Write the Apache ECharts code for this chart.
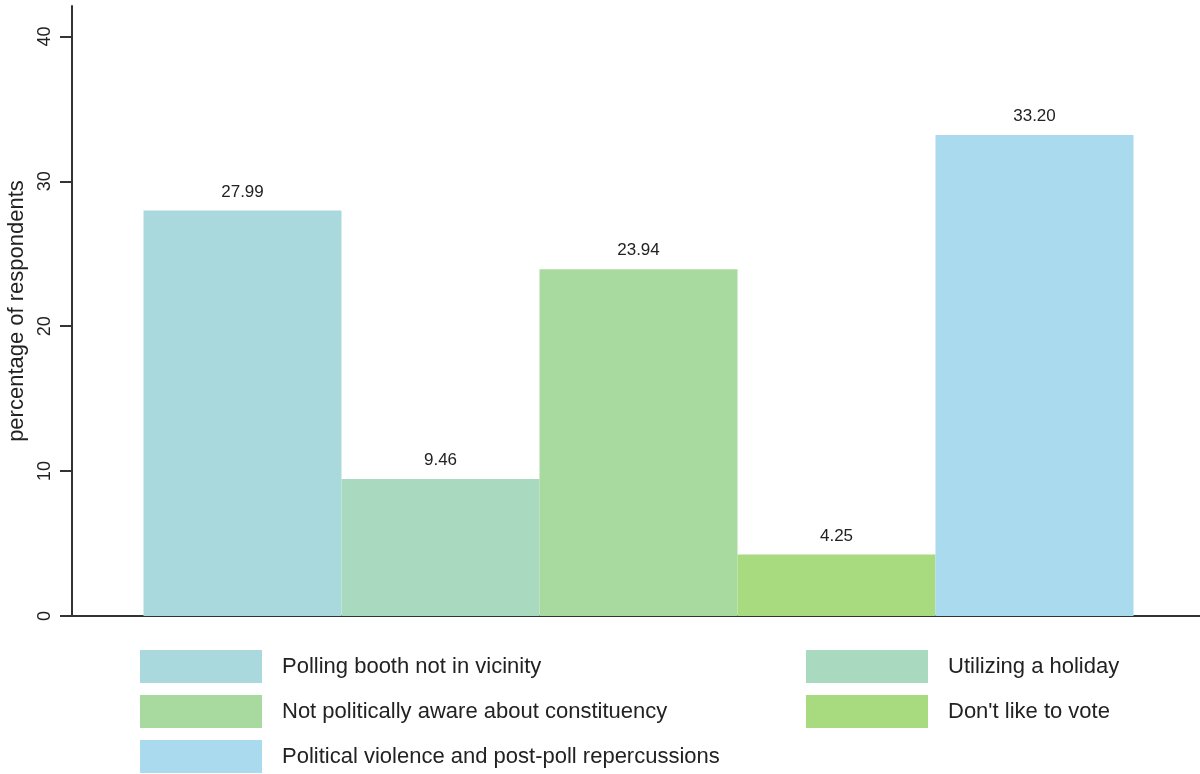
<!DOCTYPE html>
<html>
<head>
<meta charset="utf-8">
<script src="https://cdn.jsdelivr.net/npm/echarts@6/dist/echarts.min.js"></script>
<style>
  html, body { margin: 0; padding: 0; background: #fff; }
  #chart { width: 1200px; height: 774px; }
</style>
</head>
<body>
<div id="chart"></div>
<script>
// Reasons given for not voting, share of respondents (%)
const categories = [
  'Polling booth not in vicinity',
  'Utilizing a holiday',
  'Not politically aware about constituency',
  "Don't like to vote",
  'Political violence and post-poll repercussions'
];
const values = [27.99, 9.46, 23.94, 4.25, 33.20];
const colors = ['#a9d9dc', '#a9dabf', '#a8da9f', '#a8da80', '#a9daee'];
const yTicks = [0, 10, 20, 30, 40];

// Legend columns: left column and right column
const legendLeft = [categories[0], categories[2], categories[4]];
const legendRight = [categories[1], categories[3]];

const FONT = '"Liberation Sans", Arial, Helvetica, sans-serif';
const TEXT = '#222';

const chart = echarts.init(document.getElementById('chart'));

const series = categories.map((name, i) => ({
  name: name,
  type: 'bar',
  barWidth: 198,
  barGap: '0%',
  itemStyle: { color: colors[i] },
  label: {
    show: true,
    position: 'top',
    distance: 10,
    color: TEXT,
    fontFamily: FONT,
    fontSize: 17,
    formatter: p => Number(p.value).toFixed(2)
  },
  data: [values[i]]
}));

const legendCommon = {
  orient: 'vertical',
  top: 650,
  padding: 0,
  height: 124,
  itemWidth: 122,
  itemHeight: 33,
  itemGap: 12,
  icon: 'rect',
  selectedMode: false,
  textStyle: { color: TEXT, fontFamily: FONT, fontSize: 22, padding: [0, 0, 0, 15] }
};

chart.setOption({
  animation: false,
  backgroundColor: '#ffffff',
  grid: { left: 72, right: -5, top: 6, bottom: 158, containLabel: false, outerBoundsMode: 'none' },
  legend: [
    Object.assign({ left: 140, data: legendLeft }, legendCommon),
    Object.assign({ left: 806, data: legendRight }, legendCommon)
  ],
  xAxis: {
    type: 'category',
    data: [''],
    axisTick: { show: false },
    axisLabel: { show: false },
    axisLine: { lineStyle: { color: '#333', width: 2 } }
  },
  yAxis: {
    type: 'value',
    min: 0,
    max: 42.1,
    interval: 10,
    name: 'percentage of respondents',
    nameLocation: 'middle',
    nameGap: 42,
    nameTextStyle: { color: TEXT, fontFamily: FONT, fontSize: 22 },
    splitLine: { show: false },
    axisLine: { show: true, lineStyle: { color: '#333', width: 2 } },
    axisTick: {
      show: true,
      length: 12,
      customValues: yTicks,
      lineStyle: { color: '#333', width: 2 }
    },
    axisLabel: {
      customValues: yTicks,
      rotate: 90,
      margin: 18,
      color: TEXT,
      fontFamily: FONT,
      fontSize: 18
    }
  },
  series: series
});
</script>
</body>
</html>
